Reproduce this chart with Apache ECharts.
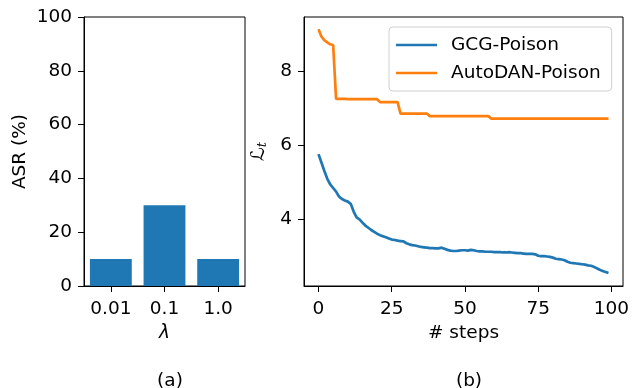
<!DOCTYPE html>
<html>
<head>
<meta charset="utf-8">
<script src="https://cdn.jsdelivr.net/npm/echarts@6/dist/echarts.min.js"></script>
<style>
  html, body { margin: 0; padding: 0; background: #fff; }
  #main { width: 633px; height: 388px; }
</style>
</head>
<body>
<div id="main"></div>
<script>
// panel (a): ASR vs lambda
var lambdas = ['0.01', '0.1', '1.0'];
var asr = [10, 30, 10];

// panel (b): loss per step
var steps = [];
for (var i = 0; i < 100; i++) steps.push(i);

var gcgLoss = [
  5.76, 5.53, 5.30, 5.09, 4.94, 4.84, 4.74, 4.61, 4.54, 4.50,
  4.47, 4.41, 4.20, 4.04, 3.99, 3.90, 3.82, 3.76, 3.70, 3.65,
  3.60, 3.56, 3.53, 3.50, 3.47, 3.44, 3.43, 3.41, 3.40, 3.39,
  3.34, 3.31, 3.29, 3.28, 3.26, 3.24, 3.23, 3.22, 3.21, 3.21,
  3.20, 3.20, 3.22, 3.19, 3.16, 3.14, 3.13, 3.13, 3.14, 3.15,
  3.15, 3.14, 3.16, 3.15, 3.13, 3.12, 3.12, 3.11, 3.11, 3.11,
  3.10, 3.10, 3.10, 3.09, 3.09, 3.10, 3.09, 3.08, 3.07, 3.07,
  3.06, 3.05, 3.05, 3.05, 3.04, 3.00, 2.99, 2.99, 2.98, 2.97,
  2.95, 2.92, 2.91, 2.90, 2.88, 2.84, 2.81, 2.80, 2.79, 2.78,
  2.77, 2.76, 2.74, 2.73, 2.70, 2.66, 2.62, 2.59, 2.56, 2.53
];

var autodanLoss = [
  9.15, 8.95, 8.85, 8.79, 8.74, 8.72, 7.26, 7.26, 7.26, 7.26,
  7.25, 7.25, 7.25, 7.25, 7.25, 7.25, 7.25, 7.25, 7.25, 7.25,
  7.25, 7.17, 7.17, 7.17, 7.17, 7.17, 7.17, 7.17, 6.86, 6.86,
  6.86, 6.86, 6.86, 6.86, 6.86, 6.86, 6.86, 6.86, 6.79, 6.79,
  6.79, 6.79, 6.79, 6.79, 6.79, 6.79, 6.79, 6.79, 6.79, 6.79,
  6.79, 6.79, 6.79, 6.79, 6.79, 6.79, 6.79, 6.79, 6.79, 6.72,
  6.72, 6.72, 6.72, 6.72, 6.72, 6.72, 6.72, 6.72, 6.72, 6.72,
  6.72, 6.72, 6.72, 6.72, 6.72, 6.72, 6.72, 6.72, 6.72, 6.72,
  6.72, 6.72, 6.72, 6.72, 6.72, 6.72, 6.72, 6.72, 6.72, 6.72,
  6.72, 6.72, 6.72, 6.72, 6.72, 6.72, 6.72, 6.72, 6.72, 6.72
];

var stepTicks = [0, 25, 50, 75, 100];
var lossTicks = [4, 6, 8];

function pairs(xs, ys) {
  return xs.map(function (x, i) { return [x, ys[i]]; });
}

var FONT = 'DejaVu Sans';
var FS = 18.5;
var chart = echarts.init(document.getElementById('main'), null, { renderer: 'canvas' });

var axisLine = { show: true, onZero: false, lineStyle: { color: '#000', width: 1 } };
var axisTick = { show: true, inside: false, length: 6, lineStyle: { color: '#000', width: 1 } };
var labelStyle = { color: '#000', fontFamily: FONT, fontSize: FS };

var option = {
  animation: false,
  backgroundColor: '#fff',
  textStyle: { fontFamily: FONT },
  title: [
    { text: '(a)', left: 165, top: 367, textAlign: 'center',
      textStyle: { fontFamily: FONT, fontSize: FS, fontWeight: 'normal', color: '#000' } },
    { text: '(b)', left: 464, top: 367, textAlign: 'center',
      textStyle: { fontFamily: FONT, fontSize: FS, fontWeight: 'normal', color: '#000' } }
  ],
  legend: {
    orient: 'vertical',
    left: 389,
    top: 27,
    padding: [8, 11, 8, 7],
    icon: 'rect',
    itemWidth: 41,
    itemHeight: 2.5,
    itemGap: 8,
    borderColor: '#d0d0d0',
    borderWidth: 1,
    borderRadius: 4,
    backgroundColor: 'rgba(255,255,255,0.8)',
    textStyle: { color: '#000', fontFamily: FONT, fontSize: FS, lineHeight: 20, padding: [0, 0, 0, 9] },
    data: ['GCG-Poison', 'AutoDAN-Poison']
  },
  grid: [
    { left: 84, top: 17, width: 161, height: 269, show: true, borderColor: '#000', borderWidth: 1 },
    { left: 304, top: 17, width: 319, height: 269, show: true, borderColor: '#000', borderWidth: 1 }
  ],
  xAxis: [
    {
      gridIndex: 0,
      type: 'category',
      data: lambdas,
      boundaryGap: true,
      axisLine: axisLine,
      axisTick: { show: true, alignWithLabel: true, length: 6, lineStyle: { color: '#000' } },
      axisLabel: Object.assign({ margin: 14 }, labelStyle),
      splitLine: { show: false },
      name: 'λ',
      nameLocation: 'middle',
      nameGap: 35,
      nameTextStyle: { color: '#000', fontFamily: FONT, fontSize: FS, fontStyle: 'italic' }
    },
    {
      gridIndex: 1,
      type: 'value',
      min: -4.95,
      max: 103.95,
      axisLine: axisLine,
      axisTick: Object.assign({ customValues: stepTicks }, axisTick),
      axisLabel: Object.assign({ margin: 14, customValues: stepTicks }, labelStyle),
      splitLine: { show: false },
      name: '# steps',
      nameLocation: 'middle',
      nameGap: 35,
      nameTextStyle: { color: '#000', fontFamily: FONT, fontSize: FS }
    }
  ],
  yAxis: [
    {
      gridIndex: 0,
      type: 'value',
      min: 0,
      max: 100,
      interval: 20,
      axisLine: axisLine,
      axisTick: axisTick,
      axisLabel: Object.assign({ margin: 12, padding: [3, 0, 0, 0] }, labelStyle),
      splitLine: { show: false },
      name: 'ASR (%)',
      nameLocation: 'middle',
      nameRotate: 90,
      nameGap: 54,
      nameTextStyle: { color: '#000', fontFamily: FONT, fontSize: FS }
    },
    {
      gridIndex: 1,
      type: 'value',
      min: 2.18,
      max: 9.48,
      axisLine: axisLine,
      axisTick: Object.assign({ customValues: lossTicks }, axisTick),
      axisLabel: Object.assign({ margin: 12, padding: [3, 0, 0, 0], customValues: lossTicks }, labelStyle),
      splitLine: { show: false },
      name: '{l|ℒ}{t|t}',
      nameLocation: 'middle',
      nameRotate: 90,
      nameGap: 30,
      nameTextStyle: {
        color: '#000',
        rich: {
          l: { fontFamily: 'DejaVu Sans', fontSize: 19, color: '#000' },
          t: { fontFamily: 'DejaVu Serif', fontSize: 13, fontStyle: 'italic', color: '#000', verticalAlign: 'bottom', padding: [8, 0, 0, 0] }
        }
      }
    }
  ],
  series: [
    {
      name: 'ASR',
      type: 'bar',
      xAxisIndex: 0,
      yAxisIndex: 0,
      barWidth: '78%',
      itemStyle: { color: '#1f77b4' },
      data: asr
    },
    {
      name: 'GCG-Poison',
      type: 'line',
      xAxisIndex: 1,
      yAxisIndex: 1,
      symbol: 'none',
      lineStyle: { color: '#1f77b4', width: 2.7 },
      itemStyle: { color: '#1f77b4' },
      data: pairs(steps, gcgLoss)
    },
    {
      name: 'AutoDAN-Poison',
      type: 'line',
      xAxisIndex: 1,
      yAxisIndex: 1,
      symbol: 'none',
      lineStyle: { color: '#ff7f0e', width: 2.7 },
      itemStyle: { color: '#ff7f0e' },
      data: pairs(steps, autodanLoss)
    }
  ]
};

chart.setOption(option);
</script>
</body>
</html>
